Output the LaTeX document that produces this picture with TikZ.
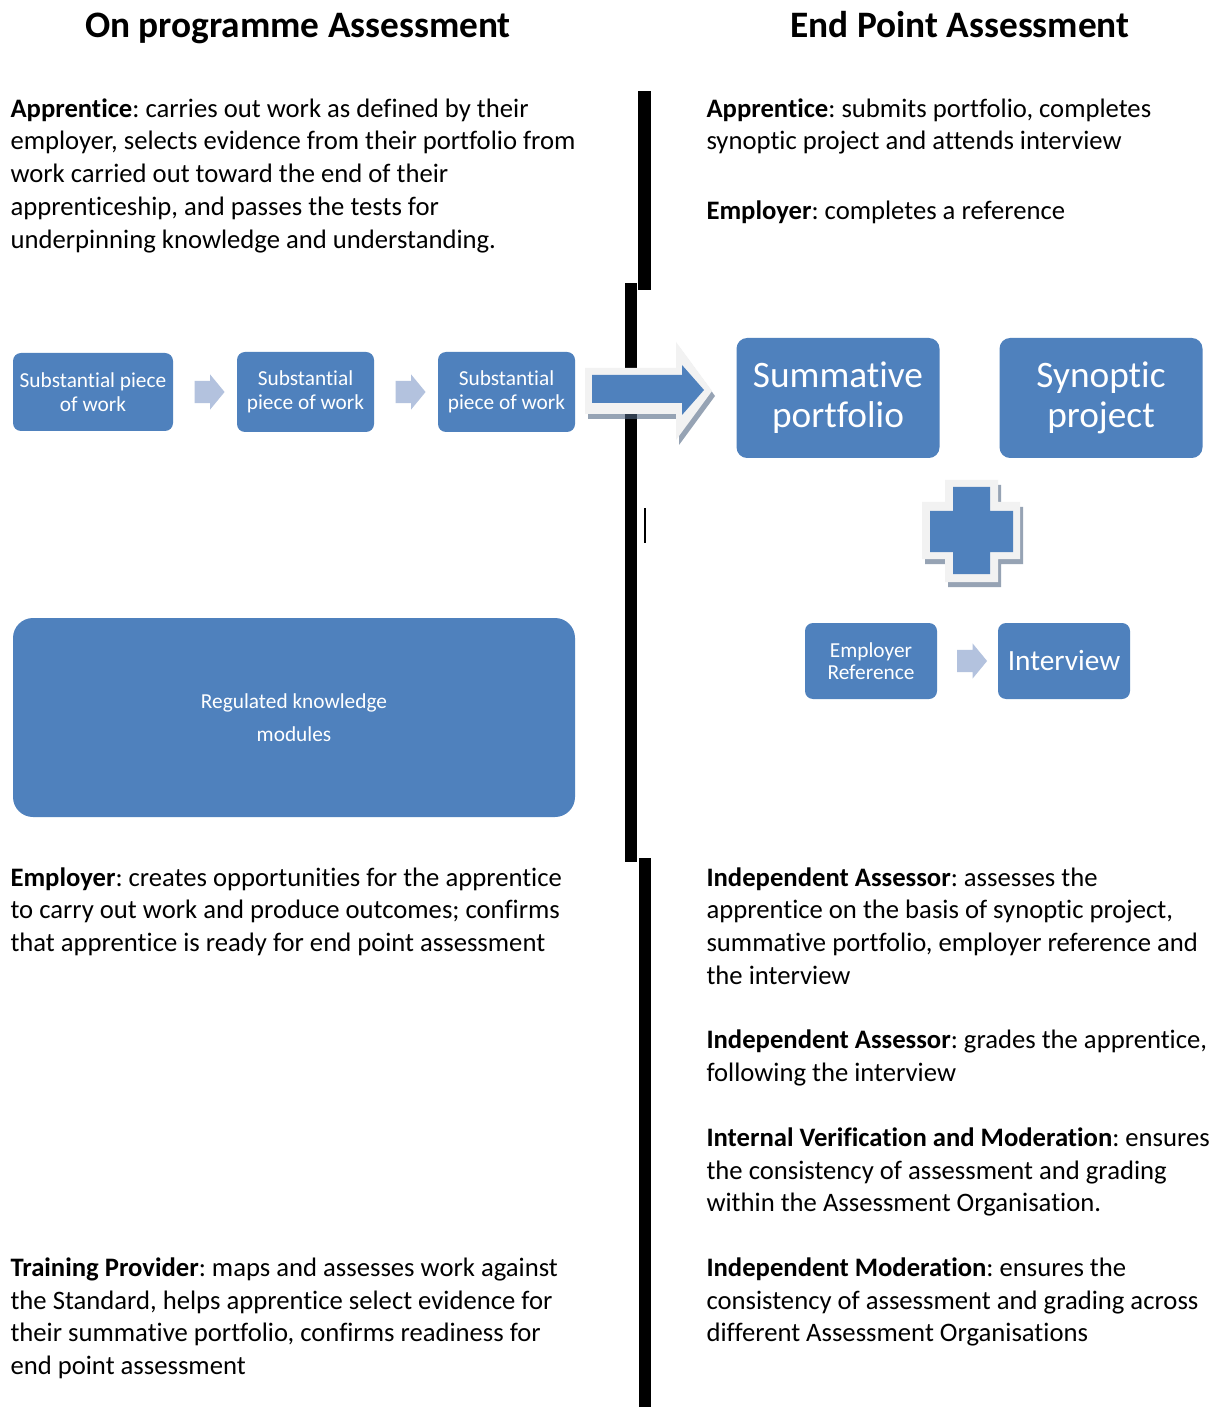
\documentclass[tikz,border=0pt]{standalone}
\usepackage{fontspec}
\setmainfont{Carlito}[Ligatures=NoCommon]
\frenchspacing
\usetikzlibrary{shapes.arrows}
\usetikzlibrary{calc}

\definecolor{boxblue}{RGB}{79,129,189}
\definecolor{arrowblue}{RGB}{179,194,222}
\definecolor{rimgray}{RGB}{242,242,242}
\definecolor{shadowgray}{RGB}{80,102,130}

\tikzset{
  heading/.style={anchor=base, inner sep=0pt, font=\fontsize{14}{17}\selectfont\bfseries},
  para/.style={anchor=north west, inner sep=0pt, align=left,
    font=\fontsize{10}{12.28}\selectfont, execute at begin node=\strut},
  sbox/.style 2 args={fill=boxblue, text=white, align=center, inner sep=0pt,
    rounded corners=3pt, minimum width=#1*0.375pt, minimum height=#2*0.375pt,
    font=\fontsize{8}{9}\selectfont},
  flowarrow/.style={single arrow, fill=arrowblue, inner xsep=0pt, inner ysep=3.95pt,
    minimum height=11.25pt, single arrow head extend=2.43pt, single arrow tip angle=101},
}

\begin{document}
\begin{tikzpicture}[x=0.375pt,y=-0.375pt]

  \fill[white] (0,0) rectangle (1220,1407);

  \node[heading] at (298,38) (ontitle) {On programme Assessment};
  \node[heading] at (960,38) (eptitle) {End Point Assessment};

  % dividing line
  \fill (638,91) rectangle (651,290);
  \fill (625,283) rectangle (637,862);
  \fill (639,858) rectangle (651,1407);
  \fill (644,508) rectangle (646,543);

  % on programme side
  \node[para] at (10,98) (appl) {\textbf{Apprentice}: carries out work as defined by their\\
    employer, selects evidence from their portfolio from\\
    work carried out toward the end of their\\
    apprenticeship, and passes the tests for\\
    underpinning knowledge and understanding.};

  \node[sbox={160}{78}] at (93,392) (sp1) {Substantial piece\\of work};
  \node[sbox={137}{80}] at (305.5,392) (sp2) {Substantial\\piece of work};
  \node[sbox={137}{80}] at (506.5,392) (sp3) {Substantial\\piece of work};
  \node[flowarrow] at ($(sp1.east)!0.5!(sp2.west)$) (a12) {};
  \node[flowarrow] at ($(sp2.east)!0.5!(sp3.west)$) (a23) {};

  \node[sbox={562}{199}, rounded corners=7.5pt, font=\fontsize{8}{12.4}\selectfont]
    at (294,717.5) (rkm) {Regulated knowledge\\modules};

  \node[para] at (10,867) (empl) {\textbf{Employer}: creates opportunities for the apprentice\\
    to carry out work and produce outcomes; confirms\\
    that apprentice is ready for end point assessment};
  \node[para] at (10,1257) (trpr) {\textbf{Training Provider}: maps and assesses work against\\
    the Standard, helps apprentice select evidence for\\
    their summative portfolio, confirms readiness for\\
    end point assessment};

  % big arrow across the line
  \fill[shadowgray, opacity=0.6, shift={(3,5)}] (585,368) -- (676,368) -- (676,342) -- (712,391)
    -- (676,440) -- (676,414) -- (585,414) -- cycle;
  \fill[rimgray] (585,368) -- (676,368) -- (676,342) -- (712,391)
    -- (676,440) -- (676,414) -- (585,414) -- cycle;
  \fill[boxblue] (592,375) -- (682,375) -- (682,365) -- (704,390)
    -- (682,415) -- (682,403) -- (592,403) -- cycle;

  % end point side
  \node[para] at (706,98) (appr) {\textbf{Apprentice}: submits portfolio, completes\\
    synoptic project and attends interview};
  \node[para] at (706,196) (empr) {\textbf{Employer}: completes a reference};

  \node[sbox={203}{120}, rounded corners=4pt, font=\fontsize{14}{15}\selectfont]
    at (838,398) (sumport) {\raisebox{-1pt}{Summative}\\\raisebox{-1pt}{portfolio}};
  \node[sbox={203}{120}, rounded corners=4pt, font=\fontsize{14}{15}\selectfont]
    at (1101,398) (synproj) {\raisebox{-1pt}{Synoptic}\\\raisebox{-1pt}{project}};

  % plus sign
  \fill[shadowgray, opacity=0.6, shift={(3,5)}] (945,480) -- (998,480) -- (998,502) -- (1020,502)
    -- (1020,559) -- (998,559) -- (998,582) -- (945,582) -- (945,559) -- (922,559)
    -- (922,502) -- (945,502) -- cycle;
  \fill[rimgray] (945,480) -- (998,480) -- (998,502) -- (1020,502)
    -- (1020,559) -- (998,559) -- (998,582) -- (945,582) -- (945,559) -- (922,559)
    -- (922,502) -- (945,502) -- cycle;
  \fill[boxblue] (953,487) -- (990,487) -- (990,511) -- (1013,511)
    -- (1013,552) -- (990,552) -- (990,574) -- (953,574) -- (953,552) -- (930,552)
    -- (930,511) -- (953,511) -- cycle;

  \node[sbox={132}{76}, font=\fontsize{8}{8.25}\selectfont] at (871,661) (empref) {Employer\\Reference};
  \node[sbox={132}{76}, font=\fontsize{11}{13}\selectfont] at (1064,661) (intv) {Interview};
  \node[flowarrow] at ($(empref.east)!0.5!(intv.west)$) (a34) {};

  \node[para] at (706,867) (ia1) {\textbf{Independent Assessor}: assesses the\\
    apprentice on the basis of synoptic project,\\
    summative portfolio, employer reference and\\
    the interview};
  \node[para] at (706,1029) (ia2) {\textbf{Independent Assessor}: grades the apprentice,\\
    following the interview};
  \node[para] at (706,1127) (ivm) {\textbf{Internal Verification and Moderation}: ensures\\
    the consistency of assessment and grading\\
    within the Assessment Organisation.};
  \node[para] at (706,1257) (imod) {\textbf{Independent Moderation}: ensures the\\
    consistency of assessment and grading across\\
    different Assessment Organisations};

\end{tikzpicture}
\end{document}
